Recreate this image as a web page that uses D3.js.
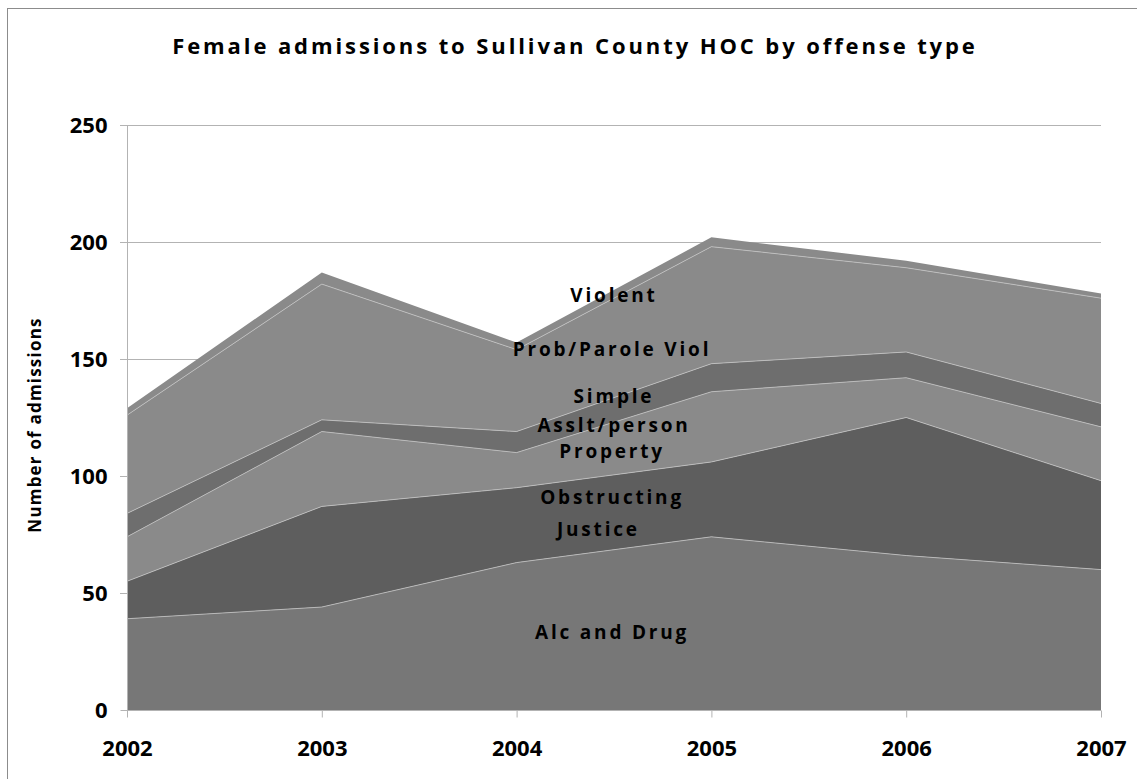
<!DOCTYPE html>
<html>
<head>
<meta charset="utf-8">
<script src="https://cdn.jsdelivr.net/npm/d3@7"></script>
<style>
  html, body { margin: 0; padding: 0; background: #fff; }
  svg { display: block; font-family: "Open Sans", "DejaVu Sans", sans-serif; }
</style>
</head>
<body>
<svg id="chart" width="1137" height="779"></svg>
<script>
// ---- Data ----
const years = ["2002", "2003", "2004", "2005", "2006", "2007"];
const seriesNames = ["Alc and Drug", "Obstructing Justice", "Property", "Simple Asslt/person", "Prob/Parole Viol", "Violent"];
const alcDrug      = [39, 44, 63, 74, 66, 60];
const obstructing  = [16, 43, 32, 32, 59, 38];
const property     = [19, 32, 15, 30, 17, 23];
const simpleAsslt  = [10,  5,  9, 12, 11, 10];
const probParole   = [42, 58, 35, 50, 36, 45];
const violent      = [ 3,  5,  3,  4,  3,  2];
const seriesValues = [alcDrug, obstructing, property, simpleAsslt, probParole, violent];
const seriesColors = ["#777777", "#5e5e5e", "#8a8a8a", "#6e6e6e", "#8a8a8a", "#8a8a8a"];
const yTicks = [0, 50, 100, 150, 200, 250];
const titleText = "Female admissions to Sullivan County HOC by offense type";
const yTitle = "Number of admissions";
// in-chart labels
const labelTexts = ["Violent", "Prob/Parole Viol", "Simple", "Asslt/person", "Property", "Obstructing", "Justice", "Alc and Drug"];
const labelVals  = [177, 154, 134, 121.5, 110.5, 91, 77, 33];
const labelPos   = [2.5, 2.49, 2.5, 2.5, 2.49, 2.49, 2.42, 2.49];

const FONT = '"Open Sans", "DejaVu Sans", sans-serif';

// ---- Layout ----
const svg = d3.select("#chart");
const W = 1137, H = 779;

// frame
svg.append("rect").attr("x", 7.5).attr("y", 8.5).attr("width", W + 20).attr("height", H + 20)
  .attr("fill", "none").attr("stroke", "#8c8c8c").attr("stroke-width", 1);

const x = d3.scalePoint().domain(years).range([127, 1101]);
const y = d3.scaleLinear().domain([0, 250]).range([710, 125]);
const xi = d3.scaleLinear().domain([0, years.length - 1]).range([127, 1101]);

// gridlines
svg.append("g").selectAll("line").data(yTicks.filter(d => d > 0)).join("line")
  .attr("x1", 120).attr("x2", 1101)
  .attr("y1", d => Math.round(y(d)) + 0.5).attr("y2", d => Math.round(y(d)) + 0.5)
  .attr("stroke", "#b3b3b3").attr("stroke-width", 1);

// stacked data
const table = years.map((yr, i) => {
  const row = {year: yr};
  seriesNames.forEach((n, k) => row[n] = seriesValues[k][i]);
  return row;
});
const stack = d3.stack().keys(seriesNames);
const layers = stack(table);

const area = d3.area()
  .x(d => x(d.data.year))
  .y0(d => y(d[0]))
  .y1(d => y(d[1]));
const topLine = d3.line().x(d => x(d.data.year)).y(d => y(d[1]));

svg.append("g").selectAll("path").data(layers).join("path")
  .attr("d", area)
  .attr("fill", (d, i) => seriesColors[i]);

svg.append("g").selectAll("path").data(layers.slice(0, layers.length - 1)).join("path")
  .attr("d", topLine)
  .attr("fill", "none")
  .attr("stroke", "#c4c4c4")
  .attr("stroke-width", 0.8);

// axes
const yAxis = d3.axisLeft(y).tickValues(yTicks).tickSize(7).tickPadding(10);
const gy = svg.append("g").attr("transform", "translate(127.5,0)").call(yAxis)
  .attr("font-family", FONT);
gy.select(".domain").attr("stroke", "#b3b3b3").attr("d", "M0,125V710");
gy.selectAll(".tick line").attr("stroke", "#b3b3b3");
gy.selectAll(".tick text").attr("font-size", 22).attr("font-weight", "bold").attr("fill", "#000")
  .attr("x", -20).attr("dy", "0.35em");

const xAxis = d3.axisBottom(x).tickSize(7).tickPadding(18);
const gx = svg.append("g").attr("transform", "translate(0,710.5)").call(xAxis)
  .attr("font-family", FONT);
gx.select(".domain").attr("stroke", "#b3b3b3").attr("d", "M127,0H1101");
gx.selectAll(".tick line").attr("stroke", "#b3b3b3");
gx.selectAll(".tick text").attr("font-size", 22).attr("font-weight", "bold").attr("fill", "#000")
  .attr("y", 30).attr("dy", "0.71em");

// title
svg.append("text").attr("x", 575).attr("y", 54).attr("text-anchor", "middle")
  .attr("font-size", 22).attr("font-weight", "bold").attr("letter-spacing", 2.9)
  .text(titleText);

// y title
svg.append("text").attr("transform", "translate(41,425) rotate(-90)")
  .attr("text-anchor", "middle").attr("font-size", 17).attr("font-weight", "bold")
  .attr("letter-spacing", 1.2)
  .text(yTitle);

// in-chart labels
svg.append("g").selectAll("text").data(labelTexts).join("text")
  .attr("x", (d, i) => xi(labelPos[i]))
  .attr("y", (d, i) => y(labelVals[i]))
  .attr("text-anchor", "middle")
  .attr("dy", "0.35em")
  .attr("font-size", 19).attr("font-weight", "bold").attr("letter-spacing", 2.8)
  .attr("fill", "#000")
  .text(d => d);
</script>
</body>
</html>
